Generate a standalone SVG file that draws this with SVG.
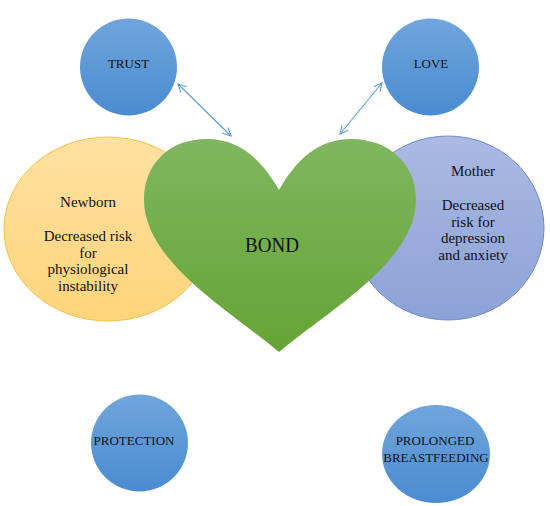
<svg xmlns="http://www.w3.org/2000/svg" width="550" height="506" viewBox="0 0 550 506">
<defs>
<linearGradient id="gBlue" x1="0" y1="0" x2="0" y2="1"><stop offset="0" stop-color="#70A5DC"/><stop offset="1" stop-color="#4A8BD0"/></linearGradient>
<linearGradient id="gYel" x1="0" y1="0" x2="0" y2="1"><stop offset="0" stop-color="#FFE1A0"/><stop offset="1" stop-color="#FFD47C"/></linearGradient>
<linearGradient id="gPur" x1="0" y1="0" x2="0" y2="1"><stop offset="0" stop-color="#ABBAE2"/><stop offset="1" stop-color="#8CA1D7"/></linearGradient>
<linearGradient id="gGrn" x1="0" y1="0" x2="0" y2="1"><stop offset="0" stop-color="#80B660"/><stop offset="1" stop-color="#64A434"/></linearGradient>
<marker id="ah" viewBox="0 0 10 10" refX="9" refY="5" markerWidth="10" markerHeight="10" markerUnits="userSpaceOnUse" orient="auto-start-reverse">
<path d="M1,1 L9,5 L1,9" fill="none" stroke="#5B9BD5" stroke-width="1.1"/>
</marker>
</defs>
<style>
.c{fill:url(#gBlue);}
.t{font-family:"Liberation Serif","Times New Roman",serif;fill:#111;text-anchor:middle;}
.s{font-size:13px;}
.b{font-size:15px;}
.con{stroke:#5B9BD5;stroke-width:1.1;fill:none;}
</style>
<g id="newborn">
<ellipse cx="108" cy="229" rx="104" ry="92" fill="url(#gYel)" stroke="#F2C34C" stroke-width="1"/>
<text class="t b" x="88" y="207">Newborn</text>
<text class="t b" x="88" y="241">Decreased risk</text>
<text class="t b" x="88" y="258">for</text>
<text class="t b" x="88" y="274">physiological</text>
<text class="t b" x="88" y="291">instability</text>
</g>
<g id="mother">
<ellipse cx="448" cy="228" rx="96" ry="92" fill="url(#gPur)" stroke="#6F89C9" stroke-width="1"/>
<text class="t b" x="473" y="176">Mother</text>
<text class="t b" x="473" y="210">Decreased</text>
<text class="t b" x="473" y="227">risk for</text>
<text class="t b" x="473" y="243">depression</text>
<text class="t b" x="473" y="260">and anxiety</text>
</g>
<g id="bond">
<path d="M279,190 C262,160 240,139 207,139 C168,139 144,165 144,200 C144,262 232,312 279,352 C326,312 416,262 416,200 C416,165 390,139 351,139 C318,139 296,160 279,190 Z" fill="url(#gGrn)"/>
<text class="t" x="272" y="252" font-size="21" textLength="54" lengthAdjust="spacingAndGlyphs">BOND</text>
</g>
<g id="trust">
<circle class="c" cx="128.5" cy="67" r="48.5"/>
<text class="t s" x="128.5" y="68">TRUST</text>
</g>
<g id="love">
<circle class="c" cx="430.5" cy="67" r="48.5"/>
<text class="t s" x="431" y="68">LOVE</text>
</g>
<g id="protection">
<circle class="c" cx="139.5" cy="443" r="48.5"/>
<text class="t s" x="134" y="445">PROTECTION</text>
</g>
<g id="breastfeeding">
<ellipse class="c" cx="436" cy="454" rx="54" ry="49"/>
<text class="t s" x="435" y="445">PROLONGED</text>
<text class="t s" x="436" y="462">BREASTFEEDING</text>
</g>
<g id="connectors">
<line class="con" x1="178" y1="84" x2="231" y2="136" marker-start="url(#ah)" marker-end="url(#ah)"/>
<line class="con" x1="382" y1="83" x2="340" y2="134" marker-start="url(#ah)" marker-end="url(#ah)"/>
</g>
</svg>
